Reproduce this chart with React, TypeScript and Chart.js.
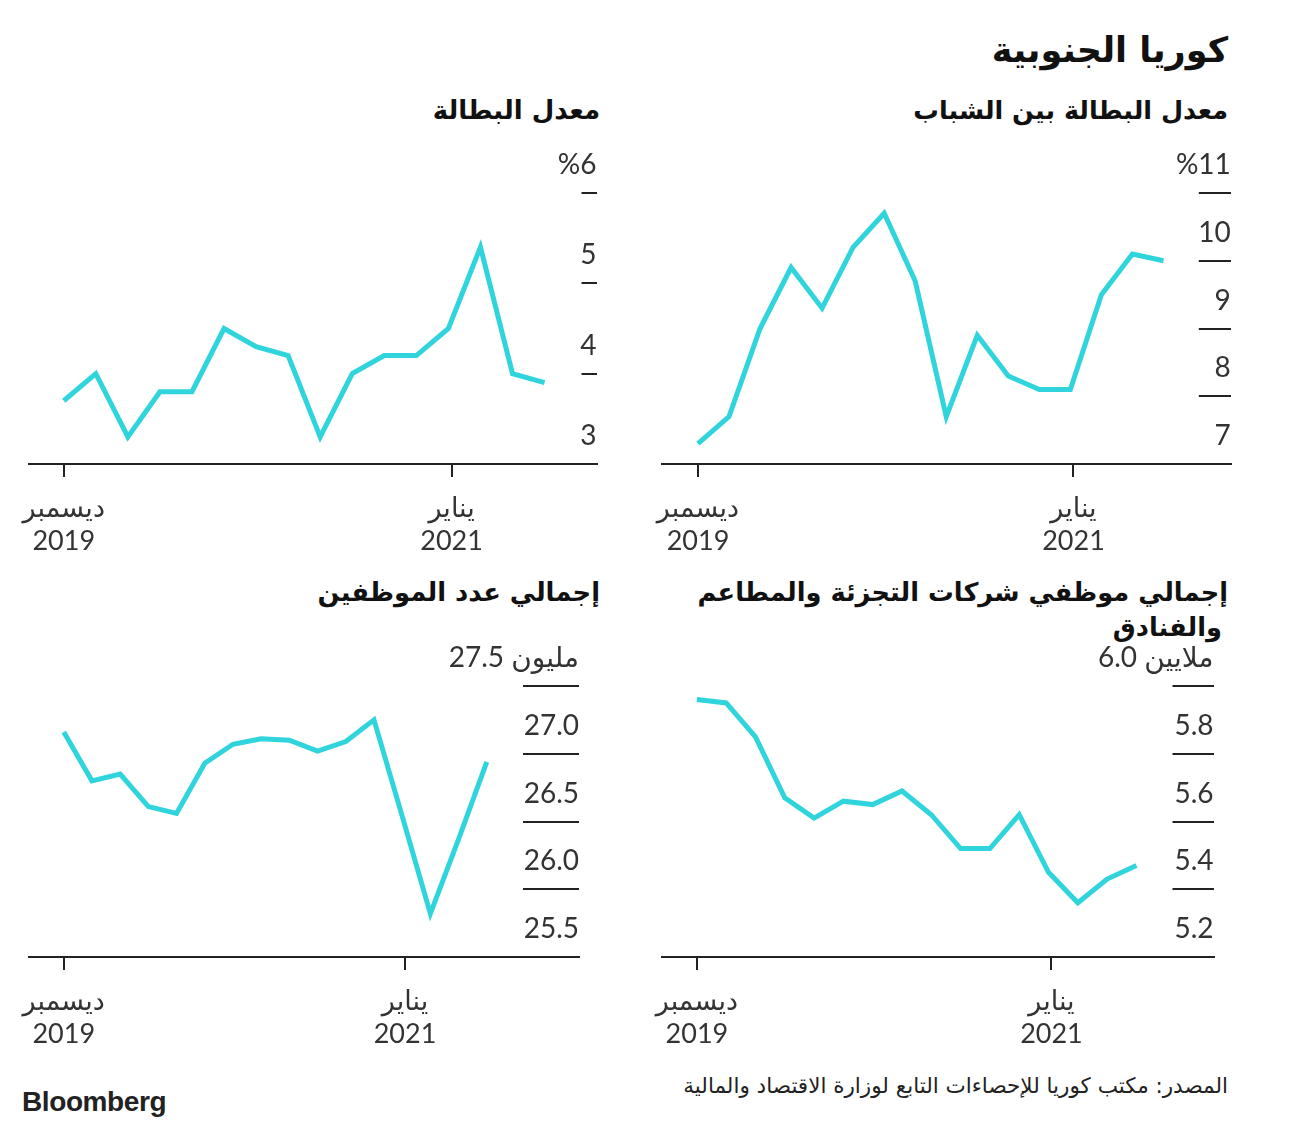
import React, { useEffect, useRef } from 'react';
import { Chart, registerables } from 'chart.js';

Chart.register(...registerables);

// ---------- data ----------
const months = [
  '2019-12', '2020-01', '2020-02', '2020-03', '2020-04', '2020-05', '2020-06', '2020-07',
  '2020-08', '2020-09', '2020-10', '2020-11', '2020-12', '2021-01', '2021-02', '2021-03',
];
// youth unemployment rate, %
const youthUnemployment = [7.3, 7.7, 9.0, 9.9, 9.3, 10.2, 10.7, 9.7, 7.7, 8.9, 8.3, 8.1, 8.1, 9.5, 10.1, 10.0];
// unemployment rate, %
const unemploymentRate = [3.7, 4.0, 3.3, 3.8, 3.8, 4.5, 4.3, 4.2, 3.3, 4.0, 4.2, 4.2, 4.5, 5.4, 4.0, 3.9];
// retail, restaurant & hotel employees, millions
const retailHotelEmployees = [5.96, 5.95, 5.85, 5.67, 5.61, 5.66, 5.65, 5.69, 5.62, 5.52, 5.52, 5.62, 5.45, 5.36, 5.43, 5.47];
// total employed, millions
const totalEmployed = [27.16, 26.8, 26.85, 26.61, 26.56, 26.93, 27.07, 27.11, 27.1, 27.02, 27.09, 27.25, 26.54, 25.82, 26.37, 26.94];

const xTickIndex = [0, 12.1];
const xTickLabels = [['ديسمبر', '2019'], ['يناير', '2021']];

const youthTicks = [7, 8, 9, 10, 11];
const rateTicks = [3, 4, 5, 6];
const retailTicks = [5.2, 5.4, 5.6, 5.8, 6.0];
const employedTicks = [25.5, 26, 26.5, 27, 27.5];

// ---------- style ----------
const LINE = '#2fd4dd';
const INK = '#222222';
const LABEL = '#333333';
const NUM_FONT = "Lato, 'DejaVu Sans', sans-serif";
const AR_FONT = "'DejaVu Sans', sans-serif";

type Pad = { left: number; right: number; top: number; bottom: number };

interface MiniProps {
  values: number[];
  yTicks: number[];
  fmt: (v: number) => string;
  topFmt: (v: number) => string;
  xMin: number;
  xMax: number;
  pad: Pad;
  axisH: number;
  tickLen: number;
  left: number;
  top: number;
}

function MiniChart(props: MiniProps) {
  const ref = useRef<HTMLCanvasElement>(null);
  useEffect(() => {
    const { values, yTicks, fmt, topFmt, xMin, xMax, pad, axisH, tickLen } = props;
    const chart = new Chart(ref.current!, {
      type: 'line',
      data: {
        datasets: [
          {
            data: values.map((v, i) => ({ x: i, y: v })),
            borderColor: LINE,
            borderWidth: 5,
            pointRadius: 0,
            tension: 0,
            fill: false,
          },
        ],
      },
      options: {
        animation: false,
        responsive: false,
        events: [],
        layout: { padding: pad },
        plugins: { legend: { display: false }, tooltip: { enabled: false } },
        scales: {
          x: {
            type: 'linear',
            position: 'bottom',
            min: xMin,
            max: xMax,
            afterBuildTicks: (s: any) => {
              s.ticks = xTickIndex.map((v) => ({ value: v }));
            },
            afterFit: (s: any) => {
              s.height = axisH;
              s.paddingLeft = 0;
              s.paddingRight = 0;
            },
            border: { display: true, color: INK, width: 2 },
            grid: { drawOnChartArea: false, drawTicks: true, tickLength: 13, color: INK, lineWidth: 2 },
            ticks: {
              autoSkip: false,
              maxRotation: 0,
              padding: 15,
              color: LABEL,
              font: { family: NUM_FONT, size: 27, lineHeight: 1.22 },
              callback: (_v: any, i: number) => xTickLabels[i],
            },
          },
          y: {
            type: 'linear',
            position: 'right',
            min: yTicks[0],
            max: yTicks[yTicks.length - 1],
            afterBuildTicks: (s: any) => {
              s.ticks = yTicks.map((v) => ({ value: v }));
            },
            afterFit: (s: any) => {
              s.width = 0;
              s.paddingTop = 0;
              s.paddingBottom = 0;
            },
            border: { display: false },
            grid: { drawOnChartArea: false, drawTicks: true, tickLength: -tickLen, color: INK, lineWidth: 2 },
            ticks: {
              mirror: true,
              padding: 0,
              labelOffset: -28,
              color: LABEL,
              font: { family: NUM_FONT, size: 28 },
              callback: (v: any, i: number, arr: any[]) =>
                i === arr.length - 1 ? topFmt(Number(v)) : fmt(Number(v)),
            },
          },
        },
      },
    });
    return () => chart.destroy();
  }, []);
  return (
    <canvas
      ref={ref}
      width={600}
      height={420}
      style={{ position: 'absolute', left: props.left, top: props.top, width: 600, height: 420 }}
    />
  );
}

// page coordinate helpers (body has an 8px margin)
const R = (xPage: number) => 1289 - xPage;
const T = (yCenter: number, lh: number) => yCenter - lh / 2 - 8;

function Txt(p: { right: number; cy: number; size: number; bold?: boolean; children: React.ReactNode; color?: string }) {
  const lh = Math.round(p.size * 1.2);
  return (
    <div
      style={{
        position: 'absolute',
        right: R(p.right),
        top: T(p.cy, lh),
        fontFamily: AR_FONT,
        fontSize: p.size,
        lineHeight: lh + 'px',
        fontWeight: p.bold ? 700 : 400,
        color: p.color || '#111',
        direction: 'rtl',
        whiteSpace: 'nowrap',
      }}
    >
      {p.children}
    </div>
  );
}

export default function App() {
  return (
    <div style={{ position: 'relative', width: 1281, height: 1111, background: '#fff', overflow: 'hidden' }}>
      <Txt right={1228} cy={50} size={35} bold>كوريا الجنوبية</Txt>
      <Txt right={1228} cy={110} size={25.5} bold>معدل البطالة بين الشباب</Txt>
      <Txt right={600} cy={110} size={26} bold>معدل البطالة</Txt>
      <Txt right={1228} cy={592} size={25.7} bold>إجمالي موظفي شركات التجزئة والمطاعم</Txt>
      <Txt right={1222} cy={627} size={25.7} bold>والفنادق</Txt>
      <Txt right={600} cy={592} size={25.8} bold>إجمالي عدد الموظفين</Txt>

      <MiniChart
        values={youthUnemployment}
        yTicks={youthTicks}
        fmt={(v) => String(v)}
        topFmt={(v) => '%' + v}
        xMin={-1.15}
        xMax={17.17}
        pad={{ left: 12.3, right: 19.2, top: 53, bottom: 0 }}
        axisH={96}
        tickLen={32}
        left={642}
        top={132}
      />
      <MiniChart
        values={unemploymentRate}
        yTicks={rateTicks}
        fmt={(v) => String(v)}
        topFmt={(v) => '%' + v}
        xMin={-1.1}
        xMax={16.62}
        pad={{ left: 18.5, right: 13.5, top: 53, bottom: 0 }}
        axisH={96}
        tickLen={15}
        left={2}
        top={132}
      />
      <MiniChart
        values={retailHotelEmployees}
        yTicks={retailTicks}
        fmt={(v) => v.toFixed(1)}
        topFmt={(v) => 'ملايين ' + v.toFixed(1)}
        xMin={-1.18}
        xMax={17.63}
        pad={{ left: 12.3, right: 36.5, top: 56, bottom: 0 }}
        axisH={93}
        tickLen={41}
        left={642}
        top={622}
      />
      <MiniChart
        values={totalEmployed}
        yTicks={employedTicks}
        fmt={(v) => v.toFixed(1)}
        topFmt={(v) => 'مليون ' + v.toFixed(1)}
        xMin={-1.25}
        xMax={18.27}
        pad={{ left: 18.5, right: 31, top: 56, bottom: 0 }}
        axisH={93}
        tickLen={56}
        left={2}
        top={622}
      />

      <Txt right={1228} cy={1086} size={21.5} color="#222">
        المصدر: مكتب كوريا للإحصاءات التابع لوزارة الاقتصاد والمالية
      </Txt>
      <div
        style={{
          position: 'absolute',
          left: 22 - 8,
          top: T(1102, 32),
          fontFamily: "'Liberation Sans', Arial, sans-serif",
          fontWeight: 700,
          fontSize: 28,
          lineHeight: '32px',
          letterSpacing: -0.4,
          color: '#222',
        }}
      >
        Bloomberg
      </div>
      <div style={{ display: 'none' }}>{months.join(',')}</div>
    </div>
  );
}
